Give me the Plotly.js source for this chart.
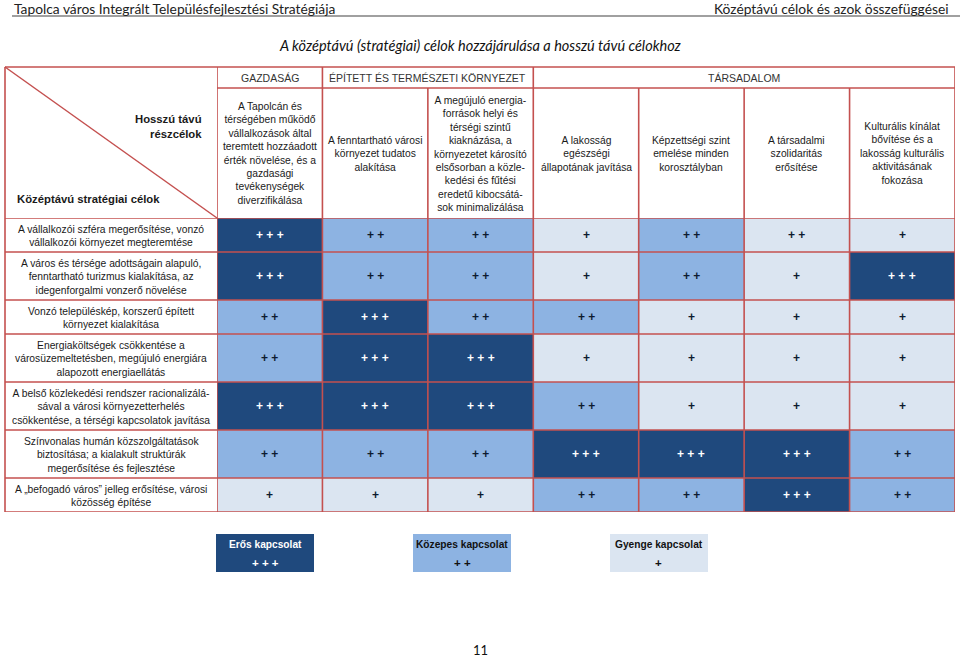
<!DOCTYPE html>
<html><head><meta charset="utf-8">
<script src="https://cdn.plot.ly/plotly-3.0.1.min.js"></script>
<style>html,body{margin:0;padding:0;background:#fff}#chart{width:960px;height:659px}</style>
</head><body><div id="chart"></div>
<script>
// ---------- data ----------
const groups = ['GAZDASÁG', 'ÉPÍTETT ÉS TERMÉSZETI KÖRNYEZET', 'TÁRSADALOM'];
const groupSpans = [1, 2, 4];
const longTermGoals = [
  'A Tapolcán és<br>térségében működő<br>vállalkozások által<br>teremtett hozzáadott<br>érték növelése, és a<br>gazdasági<br>tevékenységek<br>diverzifikálása',
  'A fenntartható városi<br>környezet tudatos<br>alakítása',
  'A megújuló energia-<br>források helyi és<br>térségi szintű<br>kiaknázása, a<br>környezetet károsító<br>elsősorban a közle-<br>kedési és fűtési<br>eredetű kibocsátá-<br>sok minimalizálása',
  'A lakosság<br>egészségi<br>állapotának javítása',
  'Képzettségi szint<br>emelése minden<br>korosztályban',
  'A társadalmi<br>szolidaritás<br>erősítése',
  'Kulturális kínálat<br>bővítése és a<br>lakosság kulturális<br>aktivitásának<br>fokozása'
];
const midTermGoals = [
  'A vállalkozói szféra megerősítése, vonzó<br>vállalkozói környezet megteremtése',
  'A város és térsége adottságain alapuló,<br>fenntartható turizmus kialakítása, az<br>idegenforgalmi vonzerő növelése',
  'Vonzó településkép, korszerű épített<br>környezet kialakítása',
  'Energiaköltségek csökkentése a<br>városüzemeltetésben, megújuló energiára<br>alapozott energiaellátás',
  'A belső közlekedési rendszer racionalizálá-<br>sával a városi környezetterhelés<br>csökkentése, a térségi kapcsolatok javítása',
  'Színvonalas humán közszolgáltatások<br>biztosítása; a kialakult struktúrák<br>megerősítése és fejlesztése',
  'A „befogadó város” jelleg erősítése, városi<br>közösség építése'
];
// number of "+" signs shown in each cell
const plusCounts = [
  [3, 2, 2, 1, 2, 2, 1],
  [3, 2, 2, 1, 2, 1, 3],
  [2, 3, 2, 2, 1, 1, 1],
  [2, 3, 3, 1, 1, 1, 1],
  [3, 3, 3, 2, 1, 1, 1],
  [2, 2, 2, 3, 3, 3, 2],
  [1, 1, 1, 2, 2, 3, 2]
];
// cell shading level (3 = strong, 2 = medium, 1 = weak)
const shades = [
  [3, 2, 2, 1, 2, 1, 1],
  [3, 2, 2, 1, 2, 1, 3],
  [2, 3, 2, 2, 1, 1, 1],
  [2, 3, 3, 1, 1, 1, 1],
  [3, 3, 3, 2, 1, 1, 1],
  [2, 2, 2, 3, 3, 3, 2],
  [1, 1, 1, 2, 2, 3, 2]
];
const legendNames = ['Erős kapcsolat', 'Közepes kapcsolat', 'Gyenge kapcsolat'];
const legendLevels = [3, 2, 1];

// ---------- styling ----------
const W = 960, H = 659;
const DARK = '#1F497D', MID = '#8DB3E2', LIGHT = '#DBE5F1';
const BORDER = '#C4504F';
const TXT = '#1a1a1a';
const FONT = 'Liberation Sans, Arial, sans-serif';
const px = x => x / W;
const py = y => 1 - y / H;

const T_LEFT = 5, T_LABEL = 217, T_RIGHT = 955, T_TOP = 67, T_GROUP = 88, T_HEAD = 218;

// row heights from number of label lines
const rowHeights = midTermGoals.map(t => t.split('<br>').length * 14 + 6);
const yEdges = [0];
rowHeights.forEach(h => yEdges.push(yEdges[yEdges.length - 1] + h));
const total = yEdges[yEdges.length - 1];
const T_BOTTOM = T_HEAD + total;
const rowCenters = rowHeights.map((h, i) => yEdges[i] + h / 2);
const nCols = longTermGoals.length;
const colIdx = longTermGoals.map((_, i) => i);

const plus = n => Array(n).fill('+').join(' ');

const traces = [
  {
    type: 'heatmap', x: colIdx, y: yEdges, z: shades, zmin: 1, zmax: 3,
    colorscale: [[0, LIGHT], [0.5, MID], [1, DARK]], showscale: false, hoverinfo: 'skip',
    xaxis: 'x', yaxis: 'y'
  },
  {
    type: 'heatmap',
    x: [0, 1, 2, 3, 4], y: [0],
    z: [legendLevels.flatMap((l, i) => i < legendLevels.length - 1 ? [l, null] : [l])],
    zmin: 1, zmax: 3,
    colorscale: [[0, LIGHT], [0.5, MID], [1, DARK]], showscale: false, hoverinfo: 'skip',
    xaxis: 'x2', yaxis: 'y2'
  }
];

const annotations = [];
const shapes = [];

// page header
annotations.push({xref: 'paper', yref: 'paper', x: px(12), y: py(9), xanchor: 'left', yanchor: 'middle',
  text: 'Tapolca város Integrált Településfejlesztési Stratégiája', showarrow: false,
  font: {family: 'Lato, sans-serif', size: 13.8, color: '#222'}});
annotations.push({xref: 'paper', yref: 'paper', x: px(951), y: py(9), xanchor: 'right', yanchor: 'middle',
  text: 'Középtávú célok és azok összefüggései', showarrow: false,
  font: {family: 'Lato, sans-serif', size: 13.8, color: '#222'}});
shapes.push({type: 'line', xref: 'paper', yref: 'paper', x0: px(12), x1: 1, y0: py(16), y1: py(16),
  line: {color: '#a0a0a0', width: 2}});
annotations.push({xref: 'paper', yref: 'paper', x: px(480), y: py(45), xanchor: 'center', yanchor: 'middle',
  text: '<i>A középtávú (stratégiai) célok hozzájárulása a hosszú távú célokhoz</i>', showarrow: false,
  font: {family: 'Lato, sans-serif', size: 14.5, color: '#111'}});

// corner cell
annotations.push({xref: 'paper', yref: 'paper', x: px(204), y: py(126), xanchor: 'right', yanchor: 'middle', align: 'right',
  text: '<b>Hosszú távú<br>részcélok</b>', showarrow: false, font: {family: FONT, size: 11.3, color: TXT}});
annotations.push({xref: 'paper', yref: 'paper', x: px(15), y: py(199), xanchor: 'left', yanchor: 'middle',
  text: '<b>Középtávú stratégiai célok</b>', showarrow: false, font: {family: FONT, size: 11.3, color: TXT}});
shapes.push({type: 'line', xref: 'paper', yref: 'paper', x0: px(T_LEFT), y0: py(T_TOP), x1: px(T_LABEL), y1: py(T_HEAD),
  line: {color: BORDER, width: 1.5}});

// group headers
let start = 0;
const groupBoundaries = [-0.5];
groups.forEach((g, i) => {
  const c = start + (groupSpans[i] - 1) / 2;
  annotations.push({xref: 'x', yref: 'paper', x: c, y: py((T_TOP + T_GROUP) / 2 + 0.5), xanchor: 'center', yanchor: 'middle',
    text: g, showarrow: false, font: {family: FONT, size: 10.5, color: '#333'}});
  start += groupSpans[i];
  groupBoundaries.push(start - 0.5);
});

// long-term goal headers
longTermGoals.forEach((t, i) => {
  annotations.push({xref: 'x', yref: 'paper', x: i, y: py((T_GROUP + T_HEAD) / 2 + 1), xanchor: 'center', yanchor: 'middle',
    text: t, showarrow: false, align: 'center', font: {family: FONT, size: 10.3, color: TXT}});
});

// mid-term goal row labels
midTermGoals.forEach((t, i) => {
  annotations.push({xref: 'paper', yref: 'y', x: px((T_LEFT + T_LABEL) / 2), y: rowCenters[i] + 0.5, xanchor: 'center', yanchor: 'middle',
    text: t, showarrow: false, align: 'center', font: {family: FONT, size: 10.3, color: TXT}});
});

// cell marks
plusCounts.forEach((row, r) => row.forEach((n, c) => {
  annotations.push({xref: 'x', yref: 'y', x: c, y: rowCenters[r], xanchor: 'center', yanchor: 'middle',
    text: '<b>' + plus(n) + '</b>', showarrow: false,
    font: {family: FONT, size: 12, color: shades[r][c] === 3 ? '#ffffff' : '#0d1b30'}});
}));

// legend texts
legendNames.forEach((nm, i) => {
  const col = legendLevels[i] === 3 ? '#ffffff' : '#111';
  annotations.push({xref: 'x2', yref: 'paper', x: i * 2, y: py(544), xanchor: 'center', yanchor: 'middle',
    text: '<b>' + nm + '</b>', showarrow: false, font: {family: FONT, size: 10.2, color: col}});
  annotations.push({xref: 'x2', yref: 'paper', x: i * 2, y: py(563), xanchor: 'center', yanchor: 'middle',
    text: '<b>' + plus(legendLevels[i]) + '</b>', showarrow: false, font: {family: FONT, size: 11.5, color: col}});
});

// page number
annotations.push({xref: 'paper', yref: 'paper', x: px(480), y: py(650), xanchor: 'center', yanchor: 'middle',
  text: '11', showarrow: false, font: {family: 'Lato, sans-serif', size: 13, color: '#111'}});

// table borders
const bl = {color: BORDER, width: 1.6};
shapes.push({type: 'line', xref: 'paper', yref: 'paper', x0: px(T_LEFT), x1: px(T_RIGHT), y0: py(T_TOP), y1: py(T_TOP), line: bl});
shapes.push({type: 'line', xref: 'x', yref: 'paper', x0: -0.5, x1: nCols - 0.5, y0: py(T_GROUP), y1: py(T_GROUP), line: bl});
shapes.push({type: 'line', xref: 'paper', yref: 'paper', x0: px(T_LEFT), x1: px(T_LEFT), y0: py(T_TOP), y1: py(T_BOTTOM), line: bl});
yEdges.forEach(e => {
  shapes.push({type: 'line', xref: 'paper', yref: 'y', x0: px(T_LEFT), x1: px(T_RIGHT), y0: e, y1: e, line: bl});
});
for (let k = -0.5; k <= nCols - 0.5; k += 1) {
  const full = groupBoundaries.some(b => Math.abs(b - k) < 1e-6);
  shapes.push({type: 'line', xref: 'x', yref: 'paper', x0: k, x1: k, y0: py(full ? T_TOP : T_GROUP), y1: py(T_BOTTOM), line: bl});
}

const layout = {
  width: W, height: H, margin: {l: 0, r: 0, t: 0, b: 0},
  paper_bgcolor: '#ffffff', plot_bgcolor: 'rgba(0,0,0,0)', showlegend: false,
  xaxis: {domain: [px(T_LABEL), px(T_RIGHT)], range: [-0.5, nCols - 0.5], visible: false, fixedrange: true},
  yaxis: {domain: [py(T_BOTTOM), py(T_HEAD)], range: [total, 0], visible: false, fixedrange: true},
  xaxis2: {domain: [px(216), px(708)], range: [-0.5, 4.5], visible: false, anchor: 'y2'},
  yaxis2: {domain: [py(572), py(534)], range: [-0.5, 0.5], visible: false, anchor: 'x2'},
  annotations: annotations, shapes: shapes
};

Plotly.newPlot('chart', traces, layout, {displayModeBar: false, staticPlot: true});
</script></body></html>
